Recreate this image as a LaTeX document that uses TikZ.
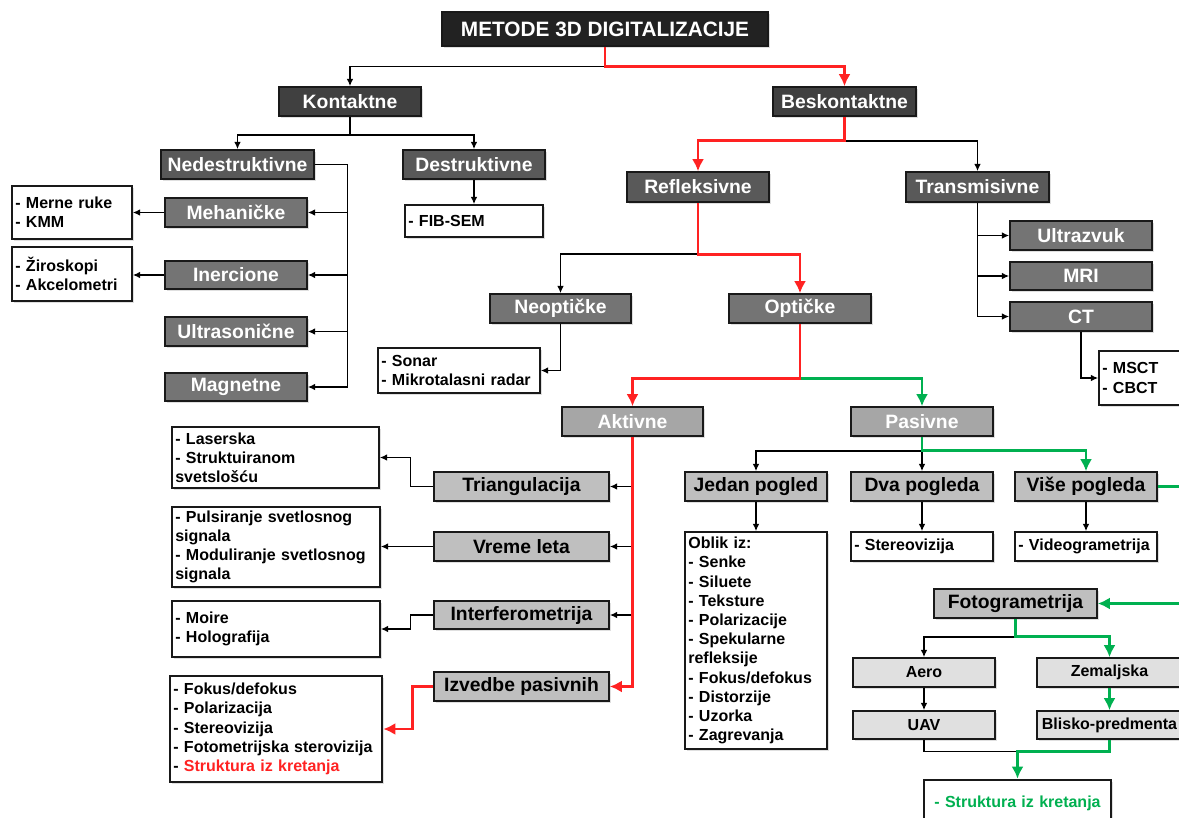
\documentclass[tikz,border=0pt]{standalone}
\usepackage{fontspec}
\setmainfont{Liberation Sans}
\usetikzlibrary{arrows.meta,shadows,calc}
\definecolor{cA}{HTML}{222222}
\definecolor{cB}{HTML}{404040}
\definecolor{cC}{HTML}{595959}
\definecolor{cD}{HTML}{747474}
\definecolor{cE}{HTML}{A6A6A6}
\definecolor{cF}{HTML}{BFBFBF}
\definecolor{cG}{HTML}{E0E0E0}
\definecolor{cR}{HTML}{FF2222}
\definecolor{cN}{HTML}{00B050}
\tikzset{
  base/.style={draw=black!90, line width=1.2pt, inner sep=0pt,
    font=\bfseries\fontsize{14.5}{17}\selectfont,
    drop shadow={shadow xshift=1.3pt,shadow yshift=-1.3pt,fill=black!25}},
  lvA/.style={base, fill=cA, text=white, font=\bfseries\fontsize{15.6}{18}\selectfont},
  lvB/.style={base, fill=cB, text=white},
  lvC/.style={base, fill=cC, text=white},
  lvD/.style={base, fill=cD, text=white},
  lvE/.style={base, fill=cE, text=white},
  lvF/.style={base, fill=cF, text=black},
  lvG/.style={base, fill=cG, text=black, font=\bfseries\fontsize{12}{14.4}\selectfont},
  tbx/.style={draw=black!90, line width=1.2pt, fill=white, inner xsep=2.5pt, inner ysep=0pt,
    align=left, font=\bfseries\fontsize{12}{14.4}\selectfont,
    drop shadow={shadow xshift=1.3pt,shadow yshift=-1.3pt,fill=black!25}},
  tbxthick/.style={tbx, line width=2pt},
  blk/.style={line width=1.2pt, black, -{Latex[length=5.5pt,width=5pt]}},
  blkl/.style={line width=1.2pt, black},
  rd/.style={line width=2.2pt, cR, -{Latex[length=9pt,width=9pt]}},
  rdl/.style={line width=2.2pt, cR},
  gn/.style={line width=2.2pt, cN, -{Latex[length=9pt,width=9pt]}},
  gnl/.style={line width=2.2pt, cN},
}
\newcommand\mybox[7]{%
  \pgfmathsetmacro\mywd{(#4-#2)*0.75}%
  \pgfmathsetmacro\myht{(#5-#3)*0.75}%
  \node[#6, minimum width=\mywd pt, minimum height=\myht pt] (#1) at ({(#2+#4)/2},{(#3+#5)/2}) {#7};}
\newcommand\mytext[7]{%
  \pgfmathsetmacro\mywd{(#4-#2)*0.75}%
  \pgfmathsetmacro\myht{(#5-#3)*0.75}%
  \pgfmathsetmacro\mytw{(#4-#2)*0.75-5}%
  \node[#6, minimum width=\mywd pt, minimum height=\myht pt, text width=\mytw pt] (#1) at ({(#2+#4)/2},{(#3+#5)/2}) {#7};}
\begin{document}
\begin{tikzpicture}[x=0.75pt,y=-0.75pt]
\useasboundingbox (0,0) rectangle (1179,818);
% boxes
\mybox{title}{442}{12}{768}{46}{lvA}{METODE 3D DIGITALIZACIJE}
\mybox{kont}{279}{87}{421}{116}{lvB}{Kontaktne}
\mybox{besk}{773}{87}{916}{116}{lvB}{Beskontaktne}
\mybox{nedes}{161}{150}{314}{179}{lvC}{Nedestruktivne}
\mybox{des}{403}{150}{545}{179}{lvC}{Destruktivne}
\mytext{fib}{405}{205}{543}{237}{tbx}{- FIB-SEM}
\mybox{refl}{627}{172}{769}{202}{lvC}{Refleksivne}
\mybox{trans}{906}{172}{1049}{202}{lvC}{Transmisivne}
\mybox{mehan}{165}{198}{307}{227}{lvD}{Mehaničke}
\mytext{merne}{12}{186}{132}{239}{tbx}{- Merne ruke\\- KMM}
\mybox{iner}{165}{261}{307}{289}{lvD}{Inercione}
\mytext{ziro}{12}{247}{132}{301}{tbx}{- Žiroskopi\\- Akcelometri}
\mybox{ultras}{165}{317}{307}{346}{lvD}{Ultrasonične}
\mybox{magn}{165}{373}{307}{401}{lvD}{Magnetne}
\mybox{ultra}{1010}{221}{1152}{250}{lvD}{Ultrazvuk}
\mybox{mri}{1010}{262}{1152}{290}{lvD}{MRI}
\mybox{ct}{1010}{302}{1152}{331}{lvD}{CT}
\mytext{msct}{1099}{351}{1190}{405}{tbx}{- MSCT\\- CBCT}
\mybox{neopt}{490}{294}{631}{323}{lvD}{Neoptičke}
\mybox{opt}{729}{294}{871}{323}{lvD}{Optičke}
\mytext{sonar}{378}{348}{540}{393}{tbx}{- Sonar\\- Mikrotalasni radar}
\mybox{akt}{562}{407}{703}{436}{lvE}{Aktivne}
\mybox{pas}{851}{407}{993}{436}{lvE}{Pasivne}
\mytext{laser}{172}{427}{379}{488}{tbx}{- Laserska\\- Struktuiranom\\svetslošću}
\mybox{tri}{434}{472}{609}{501}{lvF}{Triangulacija}
\mytext{puls}{172}{507}{380}{587}{tbx}{- Pulsiranje svetlosnog\\signala\\- Moduliranje svetlosnog\\signala}
\mybox{vreme}{434}{532}{609}{561}{lvF}{Vreme leta}
\mytext{moire}{172}{601}{380}{657}{tbx}{- Moire\\- Holografija}
\mybox{interf}{434}{601}{609}{629}{lvF}{Interferometrija}
\mytext{fokus}{170}{676}{382}{782}{tbxthick}{- Fokus/defokus\\- Polarizacija\\- Stereovizija\\- Fotometrijska sterovizija\\- \textcolor{cR}{Struktura iz kretanja}}
\mybox{izv}{434}{672}{609}{701}{lvF}{Izvedbe pasivnih}
\mybox{jedan}{685}{472}{827}{501}{lvF}{Jedan pogled}
\mybox{dva}{851}{472}{993}{501}{lvF}{Dva pogleda}
\mybox{vise}{1015}{472}{1157}{501}{lvF}{Više pogleda}
\mytext{oblik}{685}{532}{827}{749}{tbx}{Oblik iz:\\- Senke\\- Siluete\\- Teksture\\- Polarizacije\\- Spekularne\\refleksije\\- Fokus/defokus\\- Distorzije\\- Uzorka\\- Zagrevanja}
\mytext{stereo}{851}{532}{993}{561}{tbx}{- Stereovizija}
\mytext{video}{1015}{532}{1157}{561}{tbx}{- Videogrametrija}
\mybox{foto}{934}{589}{1097}{618}{lvF}{Fotogrametrija}
\mybox{aero}{853}{658}{995}{687}{lvG}{Aero}
\mybox{zem}{1037}{658}{1182}{687}{lvG}{Zemaljska}
\mybox{uav}{853}{711}{995}{739}{lvG}{UAV}
\mybox{blisko}{1037}{711}{1182}{739}{lvG}{Blisko-predmenta}
\mytext{strukt}{924}{780}{1111}{826}{tbxthick, align=center}{\textcolor{cN}{- Struktura iz kretanja}}
% connectors
\draw[blk] (title.south) ++(0,19.7) -| (kont.north);
\draw[rd] (title.south) -- ++(0,19.7) -| (besk.north);
\draw[blk] (kont.south) -- ++(0,18) -| (nedes.north);
\draw[blk] (kont.south) ++(0,18) -| (des.north);
\draw[blk] (des.south) -- (fib.north);
\draw[blk] (nedes.east) -- ++(32.5,0) |- (magn.east);
\draw[blk] (nedes.east) ++(32.5,0) |- (mehan.east);
\draw[blk] (nedes.east) ++(32.5,0) |- (iner.east);
\draw[blk] (nedes.east) ++(32.5,0) |- (ultras.east);
\draw[blk] (mehan.west) -- (mehan.west -| merne.east);
\draw[blk] (iner.west) -- (iner.west -| ziro.east);
\draw[blk] (besk.south) ++(0,24) -| (trans.north);
\draw[rd] (besk.south) -- ++(0,24) -| (refl.north);
\draw[blk] (trans.south) |- (ct.west);
\draw[blk] (trans.south) |- (ultra.west);
\draw[blk] (trans.south) |- (mri.west);
\draw[blk] (ct.south) |- (msct.west);
\draw[blk] (refl.south) ++(0,51.3) -| (neopt.north);
\draw[rd] (refl.south) -- ++(0,51.3) -| (opt.north);
\draw[blk] (neopt.south) |- (sonar.east);
\draw[gn] (opt.south) ++(0,54.3) -| (pas.north);
\draw[rd] (opt.south) -- ++(0,54.3) -| (akt.north);
\draw[blk] (akt.south |- tri.east) -- (tri.east);
\draw[blk] (akt.south |- vreme.east) -- (vreme.east);
\draw[blk] (akt.south |- interf.east) -- (interf.east);
\draw[rd] (akt.south) |- (izv.east);
\draw[blk] (tri.west) -- ++(-22.6,0) |- (laser.east);
\draw[blk] (vreme.west) -- (vreme.west -| puls.east);
\draw[blk] (interf.west) -- ++(-22.6,0) |- (moire.east);
\draw[rd] (izv.west) -- ++(-20.7,0) |- (fokus.east);
\draw[blk] (pas.south) ++(0,14) -| (jedan.north);
\draw[blk] (pas.south) ++(0,14) -- (dva.north);
\draw[gn] (pas.south) -- ++(0,14) -| (vise.north);
\draw[blk] (jedan.south) -- (oblik.north);
\draw[blk] (dva.south) -- (stereo.north);
\draw[blk] (vise.south) -- (video.north);
\coordinate (gR) at (1192,0);
\draw[gn] (vise.east) -| (gR |- foto.east) -- (foto.east);
\draw[blk] (foto.south) ++(0,18) -| (aero.north);
\draw[gn] (foto.south) -- ++(0,18) -| (zem.north);
\draw[blk] (aero.south) -- (uav.north);
\draw[gn] (zem.south) -- (blisko.north);
\coordinate (sj) at ($(strukt.north)+(0,-27.3)$);
\draw[blkl] (uav.south) |- (sj);
\draw[gn] (blisko.south) |- (sj) -- (strukt.north);
\end{tikzpicture}
\end{document}
